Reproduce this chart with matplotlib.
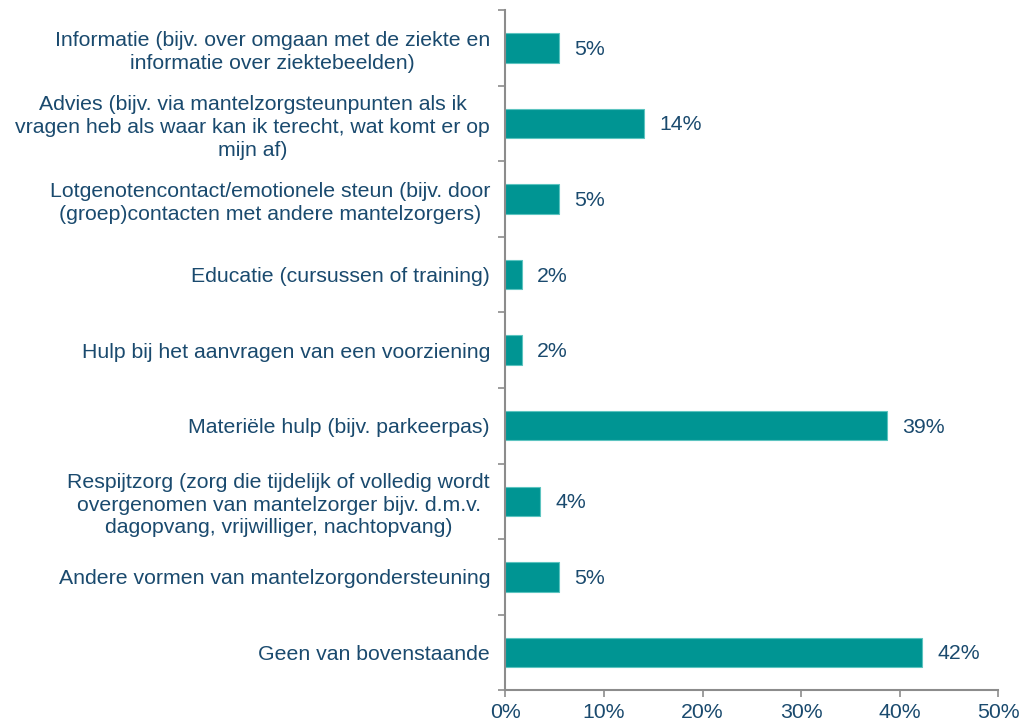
import matplotlib.pyplot as plt
import numpy as np

plt.rcParams['font.family'] = ['Liberation Sans', 'DejaVu Sans']

categories = [
    'Informatie (bijv. over omgaan met de ziekte en\ninformatie over ziektebeelden)',
    'Advies (bijv. via mantelzorgsteunpunten als ik\nvragen heb als waar kan ik terecht, wat komt er op\nmijn af)',
    'Lotgenotencontact/emotionele steun (bijv. door\n(groep)contacten met andere mantelzorgers)',
    'Educatie (cursussen of training)',
    'Hulp bij het aanvragen van een voorziening',
    'Materiële hulp (bijv. parkeerpas)',
    'Respijtzorg (zorg die tijdelijk of volledig wordt\novergenomen van mantelzorger bijv. d.m.v.\ndagopvang, vrijwilliger, nachtopvang)',
    'Andere vormen van mantelzorgondersteuning',
    'Geen van bovenstaande',
]
values = [5.4, 14.1, 5.4, 1.7, 1.7, 38.7, 3.5, 5.4, 42.3]
value_labels = ['5%', '14%', '5%', '2%', '2%', '39%', '4%', '5%', '42%']
xticks = [0, 10, 20, 30, 40, 50]

text_color = '#1a4a6e'
bar_color = '#009593'
axis_color = '#8c8c8c'
fs = 15.3

fig = plt.figure(figsize=(10.25, 7.22), dpi=100)
ax = fig.add_axes([0.493, 0.044, 0.481, 0.942])

y = np.arange(len(categories))
ax.barh(y, values, height=0.39, color=bar_color, edgecolor='#5cc4c0', linewidth=0.8)
for yi, v, lab in zip(y, values, value_labels):
    ax.text(v + 1.55, yi + 0.02, lab, va='center', ha='left', fontsize=fs, color=text_color)

ax.set_ylim(len(categories) - 0.5, -0.5)
ax.set_xlim(0, 50)
ax.set_yticks(y)
ax.set_yticklabels(categories, fontsize=fs, color=text_color,
                   multialignment='center', linespacing=1.25)
ax.tick_params(axis='y', which='major', length=0, pad=11)
ax.set_yticks(np.arange(-0.5, len(categories), 1), minor=True)
ax.tick_params(axis='y', which='minor', length=5, width=1.2, color=axis_color, direction='out')

ax.set_xticks(xticks)
ax.set_xticklabels([f'{t}%' for t in xticks], fontsize=fs, color=text_color)
ax.tick_params(axis='x', length=5, width=1.2, color=axis_color, pad=4)

for side in ['top', 'right']:
    ax.spines[side].set_visible(False)
for side in ['left', 'bottom']:
    ax.spines[side].set_color(axis_color)
    ax.spines[side].set_linewidth(1.5)

fig.savefig('out.png', dpi=100)
